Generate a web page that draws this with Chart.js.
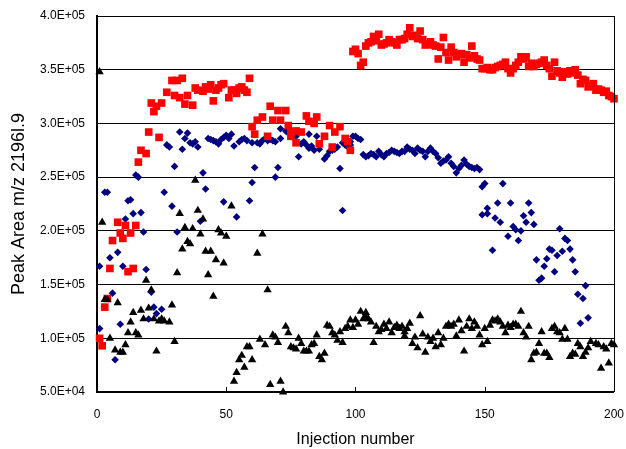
<!DOCTYPE html>
<html>
<head>
<meta charset="utf-8">
<script src="https://cdn.jsdelivr.net/npm/chart.js@4.4.1/dist/chart.umd.min.js"></script>
<style>
  html, body { margin: 0; padding: 0; background: #fff; }
</style>
</head>
<body>
<canvas id="peakChart" width="626" height="449"></canvas>
<script>
// x = injection number, y = peak area in thousands
const xTicks = [0, 50, 100, 150, 200];

const redPoints = [
  [1,100],[2,93],[3,129],[4,137],[5,165],[6,191],[8,208],[9,198],[10,193],[11,205],[12,162],[13,198],[14,165],[15,205],
  [16,264],[17,275],[19,272],[20,292],[21,319],[22,311],[23,316],[24,287],[25,319],[27,329],[29,340],[30,326],[31,340],
  [32,324],[33,342],[34,318],[35,326],[37,317],[38,333],[39,331],[41,330],[42,334],[43,332],[44,336],[45,321],[46,331],
  [47,333],[48,336],[49,337],[51,324],[52,331],[53,331],[54,328],[55,333],[56,334],[57,331],[58,329],[59,342],
  [60,297],[61,290],[62,303],[64,306],[66,288],[67,316],[68,303],[70,312],[71,303],[73,312],[74,298],[75,292],[75,288],
  [77,293],[77,282],[79,292],[81,307],[82,302],[84,300],[85,306],[86,281],[88,288],[90,298],[91,278],[92,292],[94,297],
  [96,286],[97,283],[98,275],
  [99,367],[100,369],[101,365],[102,354],[103,357],[104,372],[105,375],[106,376],[107,381],[108,377],[109,383],[110,373],
  [111,374],[112,375],[113,378],[114,376],[115,375],[116,373],[117,378],[118,378],[119,379],[120,383],[121,389],[122,381],
  [123,382],[124,379],[125,386],[126,378],[127,373],[128,374],[129,376],[130,373],[131,372],[132,360],[133,371],[134,380],
  [135,366],[136,359],[137,371],[138,366],[139,362],[140,364],[141,365],[142,357],[143,364],[144,361],[145,372],[146,363],
  [147,360],[148,359],[149,351],[150,351],[151,352],[152,350],[153,350],[154,352],[155,353],[156,354],[157,355],[158,357],
  [159,351],[160,347],[161,351],[162,354],[163,357],[164,362],[165,360],[166,362],[167,353],[168,356],[169,353],[170,355],
  [171,356],[172,357],[173,359],[174,354],[175,351],[176,344],[177,357],[178,349],[179,347],[180,343],[181,348],[182,346],
  [183,349],[184,347],[185,350],[186,345],[187,337],[188,341],[189,340],[190,334],[191,335],[192,337],[193,331],[194,332],
  [195,331],[196,329],[197,330],[198,326],[199,325],[200,323]
];

const bluePoints = [
  [1,109],[1,167],[3,236],[4,236],[5,175],[6,142],[7,80],[8,180],[9,113],[10,167],[11,211],[12,228],[13,229],[14,216],
  [15,252],[16,250],[17,217],[18,199],[19,164],[20,118],[21,143],[22,129],[23,123],[25,127],[26,236],[27,280],[28,278],
  [29,223],[30,260],[31,199],[32,292],[33,276],[34,286],[35,291],[36,282],[37,281],[38,283],[39,278],[40,209],[41,254],
  [42,239],[43,286],[44,285],[45,284],[46,283],[47,281],[48,285],[49,287],[49,227],[50,289],[51,286],[52,290],[53,279],
  [54,213],[55,283],[56,285],[57,286],[58,284],[59,228],[60,245],[60,282],[61,259],[62,282],[63,281],[64,284],[65,286],
  [66,284],[67,285],[68,284],[69,283],[69,250],[70,259],[71,286],[71,295],[73,293],[74,291],[76,289],[77,288],[78,269],
  [79,281],[80,283],[81,280],[82,290],[82,277],[83,279],[84,275],[85,288],[86,276],[88,267],[89,270],[90,274],[91,275],
  [92,276],[93,278],[94,258],[95,219],[95,282],[96,280],[97,278],[98,283],[98,280],[99,288],
  [100,288],[101,286],[102,285],[103,271],[104,269],[105,270],[106,272],[107,271],[108,269],[109,274],[110,271],[111,269],
  [112,272],[113,273],[114,275],[115,274],[116,273],[117,272],[118,274],[119,274],[120,278],[121,276],[122,275],[123,272],
  [124,277],[125,275],[126,274],[127,269],[128,274],[129,277],[130,274],[131,272],[132,268],[133,263],[134,265],[135,266],
  [136,269],[137,263],[138,260],[139,254],[140,258],[141,261],[142,266],[143,262],[144,260],[145,259],[146,258],[147,259],
  [148,257],[149,241],[149,215],[150,244],[151,221],[151,216],[153,182],[154,212],[155,226],[156,208],[157,244],[159,195],
  [160,226],[161,204],[162,201],[163,191],[164,200],[165,214],[166,208],[167,226],[168,217],[169,206],[170,173],[171,154],
  [172,156],[173,167],[174,174],[175,183],[176,182],[177,162],[178,177],[179,202],[180,181],[181,193],[182,191],[183,183],
  [184,173],[185,162],[186,141],[187,114],[188,137],[189,149],[190,119]
];

const blackPoints = [
  [1,348],[2,208],[3,136],[4,136],[5,100],[7,89],[8,133],[9,87],[10,87],[11,94],[12,105],[13,115],[14,124],[15,105],
  [16,103],[17,126],[18,118],[19,154],[20,128],[21,145],[22,118],[23,88],[24,116],[25,118],[26,116],[28,115],[29,131],
  [30,97],[31,161],[32,216],[33,183],[34,203],[35,190],[36,188],[37,202],[38,247],[39,219],[40,197],[41,211],[42,181],
  [43,159],[44,181],[45,139],[46,173],[47,201],[48,198],[49,170],[50,195],[52,223],[53,60],[54,68],[55,80],[56,84],
  [57,73],[58,92],[59,92],[60,80],[62,179],[63,99],[64,197],[65,94],[66,145],[67,57],[68,103],[69,101],[70,96],[71,60],
  [72,50],[73,111],[74,105],[75,92],[76,91],[77,90],[78,100],[79,95],[80,88],[81,88],[82,88],[83,94],[84,95],[85,103],
  [86,83],[87,80],[88,86],[89,112],[90,111],[91,105],[92,103],[93,98],[94,106],[95,96],[96,109],[97,111],[98,117],
  [99,110],[100,117],[101,113],[102,125],[103,118],[104,124],[104,120],[105,118],[106,115],[107,96],[108,111],[109,106],
  [110,108],[111,113],[112,109],[113,115],[114,105],[115,110],[116,112],[117,109],[118,111],[119,106],[119,102],[120,109],
  [121,114],[122,95],[123,101],[124,91],[125,121],[126,104],[127,87],[128,101],[129,97],[130,100],[131,92],[132,105],
  [133,94],[134,100],[135,111],[136,113],[137,111],[138,113],[139,102],[140,117],[141,107],[142,88],[143,111],[144,118],
  [145,109],[146,115],[147,111],[148,103],[149,94],[150,109],[151,97],[152,112],[153,117],[154,116],[155,118],[156,115],
  [157,111],[158,105],[159,112],[160,110],[161,113],[162,113],[163,111],[164,125],[165,105],[166,101],[167,111],[168,80],
  [169,86],[170,87],[171,95],[172,106],[173,86],[174,86],[175,82],[176,109],[177,111],[178,106],[179,105],[180,99],
  [181,109],[182,99],[183,83],[184,86],[185,85],[186,95],[187,92],[188,83],[189,87],[190,91],[191,97],[193,95],[194,94],
  [195,72],[196,92],[197,90],[198,77],[199,95],[200,94]
];

const FONT = "'Liberation Sans', Arial, sans-serif";

const toXY = (pts) => pts.map(([x, y]) => ({ x, y }));

// 400 -> "4.0E+05"
function sciLabel(v) {
  const n = v * 1000;
  const e = Math.floor(Math.log10(n));
  const m = n / Math.pow(10, e);
  return m.toFixed(1) + "E+" + String(e).padStart(2, "0");
}

// right frame line and the small inward ticks on the x axis
const framePlugin = {
  id: "frame",
  afterDraw(chart) {
    const { ctx, chartArea } = chart;
    const xs = chart.scales.x;
    ctx.save();
    ctx.strokeStyle = "#000";
    ctx.lineWidth = 1;
    ctx.beginPath();
    ctx.moveTo(chartArea.right + 0.5, chartArea.top);
    ctx.lineTo(chartArea.right + 0.5, chartArea.bottom);
    xTicks.slice(1, -1).forEach((t) => {
      const px = Math.round(xs.getPixelForValue(t)) + 0.5;
      ctx.moveTo(px, chartArea.bottom);
      ctx.lineTo(px, chartArea.bottom - 5);
    });
    ctx.stroke();
    ctx.restore();
  },
};

new Chart(document.getElementById("peakChart"), {
  type: "scatter",
  data: {
    datasets: [
      {
        label: "black",
        data: toXY(blackPoints),
        pointStyle: "triangle",
        pointRadius: 4.8,
        backgroundColor: "#000000",
        borderWidth: 0,
        clip: false,
      },
      {
        label: "red",
        data: toXY(redPoints),
        pointStyle: "rect",
        pointRadius: 5.4,
        backgroundColor: "#ff0000",
        borderWidth: 0,
        clip: false,
      },
      {
        label: "blue",
        data: toXY(bluePoints),
        pointStyle: "rectRot",
        pointRadius: 3.8,
        backgroundColor: "#000080",
        borderWidth: 0,
        clip: false,
      },
    ],
  },
  options: {
    responsive: false,
    animation: false,
    devicePixelRatio: 1,
    layout: { padding: { top: 16, right: 0, bottom: 0, left: 0 } },
    plugins: {
      legend: { display: false },
      tooltip: { enabled: false },
    },
    scales: {
      x: {
        type: "linear",
        min: 0,
        max: 200,
        afterFit: (s) => { s.height = 57; },
        ticks: {
          stepSize: 50,
          padding: 2,
          color: "#000",
          font: { family: FONT, size: 12 },
          maxRotation: 0,
        },
        // invisible tick marks only push the labels down
        grid: {
          display: true,
          drawOnChartArea: false,
          drawTicks: true,
          tickLength: 13,
          color: "rgba(0,0,0,0)",
        },
        border: { display: true, color: "#000", width: 2 },
        title: {
          display: true,
          text: "Injection number",
          color: "#000",
          font: { family: FONT, size: 16 },
          padding: { top: 0, bottom: 0 },
        },
      },
      y: {
        type: "linear",
        min: 50,
        max: 400,
        afterFit: (s) => { s.width = 97; },
        ticks: {
          stepSize: 50,
          padding: 2,
          color: "#000",
          font: { family: FONT, size: 12 },
          callback: (v) => sciLabel(v),
        },
        grid: {
          color: "#000",
          lineWidth: 1,
          drawTicks: true,
          tickLength: 10,
          tickColor: "rgba(0,0,0,0)",
        },
        border: { display: true, color: "#000", width: 2 },
        title: {
          display: true,
          text: "Peak Area m/z 2196l.9",
          color: "#000",
          font: { family: FONT, size: 18 },
          padding: { top: 8, bottom: 0 },
        },
      },
    },
  },
  plugins: [framePlugin],
});
</script>
</body>
</html>
